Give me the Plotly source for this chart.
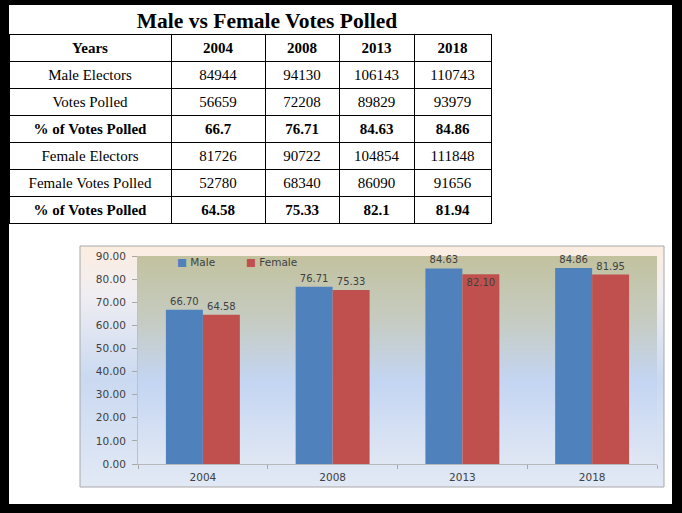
import base64
import plotly.graph_objects as go

# ---------------- data ----------------
years = ["2004", "2008", "2013", "2018"]
male_electors = [84944, 94130, 106143, 110743]
male_votes = [56659, 72208, 89829, 93979]
male_pct = [66.7, 76.71, 84.63, 84.86]
female_electors = [81726, 90722, 104854, 111848]
female_votes = [52780, 68340, 86090, 91656]
female_pct = [64.58, 75.33, 82.1, 81.94]

# values as printed on the bar chart
chart_male = [66.70, 76.71, 84.63, 84.86]
chart_female = [64.58, 75.33, 82.10, 81.95]

W, H = 682, 513
def px(x):
    return x / W
def py(y):
    return 1 - y / H

BLUE = "#4f81bd"
RED = "#c0504d"
TXT = "#404040"
SANS = "DejaVu Sans"
SERIF = "Liberation Serif"

# ---------------- table (bold row + normal rows per block) ----------------
ROW_H = 27
TABLE_TOP = 34
blocks = [
    (["Years"] + years,
     [["Male Electors"] + [str(v) for v in male_electors],
      ["Votes Polled"] + [str(v) for v in male_votes]]),
    (["% of Votes Polled"] + [str(v) for v in male_pct],
     [["Female Electors"] + [str(v) for v in female_electors],
      ["Female Votes Polled"] + [str(v) for v in female_votes]]),
    (["% of Votes Polled"] + [str(v) for v in female_pct], []),
]

traces = []
top = TABLE_TOP
for bold_row, rows in blocks:
    n = 1 + len(rows)
    bottom = top + n * ROW_H
    cols = [[r[c] for r in rows] for c in range(len(bold_row))] if rows else [[] for _ in bold_row]
    traces.append(go.Table(
        domain=dict(x=[px(9), px(491)], y=[py(bottom + 3), py(top)]),
        columnwidth=[162, 94, 74, 75, 77],
        header=dict(values=bold_row, height=ROW_H, align="center", fill_color="white",
                    line=dict(color="black", width=1),
                    font=dict(family=SERIF, size=15, color="black", weight="bold")),
        cells=dict(values=cols, height=ROW_H, align="center", fill_color="white",
                   line=dict(color="black", width=1),
                   font=dict(family=SERIF, size=15, color="black")),
    ))
    top = bottom

# ---------------- bars ----------------
lab_font = dict(family=SANS, size=10, color=TXT)
traces.append(go.Bar(
    x=years, y=chart_male, name="Male", marker=dict(color=BLUE, line=dict(width=0)),
    texttemplate="%{y:.2f}", textposition="outside", textfont=lab_font,
    cliponaxis=False, showlegend=False,
))
traces.append(go.Bar(
    x=years, y=chart_female, name="Female", marker=dict(color=RED, line=dict(width=0)),
    texttemplate="%{y:.2f}", textposition=["outside", "outside", "inside", "outside"],
    insidetextanchor="end", textfont=lab_font, insidetextfont=lab_font,
    outsidetextfont=lab_font, constraintext="none",
    cliponaxis=False, showlegend=False,
))

fig = go.Figure(traces)


def grad(stops):
    st = "".join(f'<stop offset="{o}" stop-color="{c}"/>' for o, c in stops)
    svg = ('<svg xmlns="http://www.w3.org/2000/svg" width="100" height="100" '
           'viewBox="0 0 100 100" preserveAspectRatio="none"><defs>'
           f'<linearGradient id="g" x1="0" y1="0" x2="0" y2="1">{st}</linearGradient>'
           '</defs><rect width="100" height="100" fill="url(#g)"/></svg>')
    return "data:image/svg+xml;base64," + base64.b64encode(svg.encode()).decode()

frame_src = grad([(0, "#fcede0"), (0.2, "#f0eef2"), (0.55, "#cad9f1"), (1, "#e2e9f5")])
plot_src = grad([(0, "#c2c29f"), (0.3, "#c6cbc0"), (0.6, "#c3d5f2"), (1, "#e0e7f4")])

images = [
    dict(source=frame_src, xref="paper", yref="paper", x=px(80), y=py(246),
         sizex=px(664) - px(80), sizey=py(246) - py(487), sizing="stretch",
         xanchor="left", yanchor="top", layer="below"),
    dict(source=plot_src, xref="paper", yref="paper", x=px(138), y=py(256),
         sizex=px(657) - px(138), sizey=py(256) - py(464), sizing="stretch",
         xanchor="left", yanchor="top", layer="below"),
]

shapes = [
    # chart frame border
    dict(type="rect", xref="paper", yref="paper", x0=px(80), x1=px(664),
         y0=py(487), y1=py(246), line=dict(color="#a8a8a8", width=1), layer="below"),
    # black outer frame
    dict(type="rect", xref="paper", yref="paper", x0=0, x1=px(9), y0=0, y1=1,
         fillcolor="black", line=dict(width=0), layer="above"),
    dict(type="rect", xref="paper", yref="paper", x0=px(672), x1=1, y0=0, y1=1,
         fillcolor="black", line=dict(width=0), layer="above"),
    dict(type="rect", xref="paper", yref="paper", x0=0, x1=1, y0=py(5), y1=1,
         fillcolor="black", line=dict(width=0), layer="above"),
    dict(type="rect", xref="paper", yref="paper", x0=0, x1=1, y0=0, y1=py(504),
         fillcolor="black", line=dict(width=0), layer="above"),
]

legend_items = [("Male", BLUE, 175), ("Female", RED, 244)]
annotations = [
    dict(text=f"<span style='color:{c}'>■</span> {n}", xref="paper", yref="paper",
         x=px(x0), y=py(262), xanchor="left", yanchor="middle", showarrow=False,
         font=dict(family=SANS, size=10.5, color=TXT))
    for n, c, x0 in legend_items
]

fig.update_layout(
    width=W, height=H,
    margin=dict(l=0, r=0, t=0, b=0, pad=0, autoexpand=False),
    paper_bgcolor="white", plot_bgcolor="rgba(0,0,0,0)",
    title=dict(text="<b>Male vs Female Votes Polled</b>", x=px(267), xanchor="center",
               y=py(20), yanchor="middle", font=dict(family=SERIF, size=21.5, color="black")),
    barmode="group", bargap=0.43, bargroupgap=0,
    xaxis=dict(domain=[px(138), px(657)], type="category", showgrid=False,
               showline=True, linecolor="#b8b8b8", linewidth=1,
               ticks="outside", tickson="boundaries", ticklen=4, tickcolor="#a8a8a8",
               ticklabelstandoff=3,
               tickfont=dict(family=SANS, size=10.5, color=TXT), zeroline=False,
               fixedrange=True),
    yaxis=dict(domain=[py(464), py(256)], range=[0, 90], dtick=10, tickformat=".2f",
               showgrid=False, zeroline=False, showline=True, linecolor="#c0c0c0",
               ticks="outside", ticklen=5, tickcolor="#a8a8a8", ticklabelstandoff=4,
               tickfont=dict(family=SANS, size=10.5, color=TXT), fixedrange=True),
    images=images, shapes=shapes, annotations=annotations,
    showlegend=False,
)

fig.write_html("out.html", config={"displayModeBar": False},
               post_script="document.body.style.margin='0px';")
